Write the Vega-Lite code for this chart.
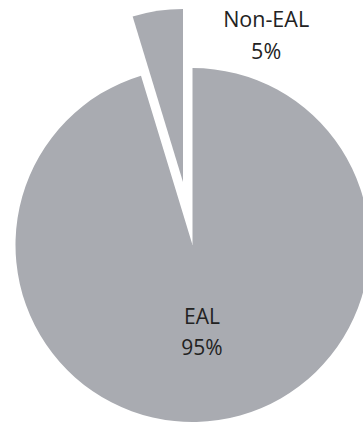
{
  "$schema": "https://vega.github.io/schema/vega-lite/v6.json",
  "width": 341,
  "height": 360,
  "autosize": "none",
  "padding": {"left": 22, "top": 65, "right": 0, "bottom": 0},
  "background": "white",
  "view": {"stroke": null},
  "data": {
    "values": [
      {"group": "EAL", "pct": 95.3, "order": 1, "label": "EAL\n95%"},
      {"group": "Non-EAL", "pct": 4.7, "order": 2, "label": "Non-EAL\n5%"}
    ]
  },
  "layer": [
    {
      "transform": [
        {"stack": "pct", "groupby": [], "sort": [{"field": "order"}], "as": ["t0", "t1"]},
        {"filter": "datum.group === 'EAL'"}
      ],
      "mark": {"type": "arc", "outerRadius": 177, "color": "#a9abb1"},
      "encoding": {
        "theta": {"field": "t0", "type": "quantitative", "scale": {"domain": [0, 100]}},
        "theta2": {"field": "t1"}
      }
    },
    {
      "transform": [
        {"stack": "pct", "groupby": [], "sort": [{"field": "order"}], "as": ["t0", "t1"]},
        {"filter": "datum.group === 'Non-EAL'"}
      ],
      "mark": {"type": "arc", "outerRadius": 173, "color": "#a9abb1", "xOffset": -9.5, "yOffset": -63},
      "encoding": {
        "theta": {"field": "t0", "type": "quantitative", "scale": {"domain": [0, 100]}},
        "theta2": {"field": "t1"}
      }
    },
    {
      "mark": {"type": "text", "radius": 74, "thetaOffset": 0.02, "font": "Open Sans", "fontSize": 21, "lineHeight": 31, "lineBreak": "\n", "color": "#222222", "baseline": "middle", "align": "center"},
      "encoding": {
        "theta": {"field": "pct", "type": "quantitative", "stack": true},
        "order": {"field": "order", "type": "quantitative"},
        "text": {"condition": {"test": "datum.group === 'EAL'", "field": "label"}, "value": ""}
      }
    },
    {
      "mark": {"type": "text", "radius": 236, "thetaOffset": 0.465, "font": "Open Sans", "fontSize": 21.5, "lineHeight": 32, "lineBreak": "\n", "color": "#222222", "baseline": "middle", "align": "center"},
      "encoding": {
        "theta": {"field": "pct", "type": "quantitative", "stack": true},
        "order": {"field": "order", "type": "quantitative"},
        "text": {"condition": {"test": "datum.group === 'Non-EAL'", "field": "label"}, "value": ""}
      }
    }
  ]
}
